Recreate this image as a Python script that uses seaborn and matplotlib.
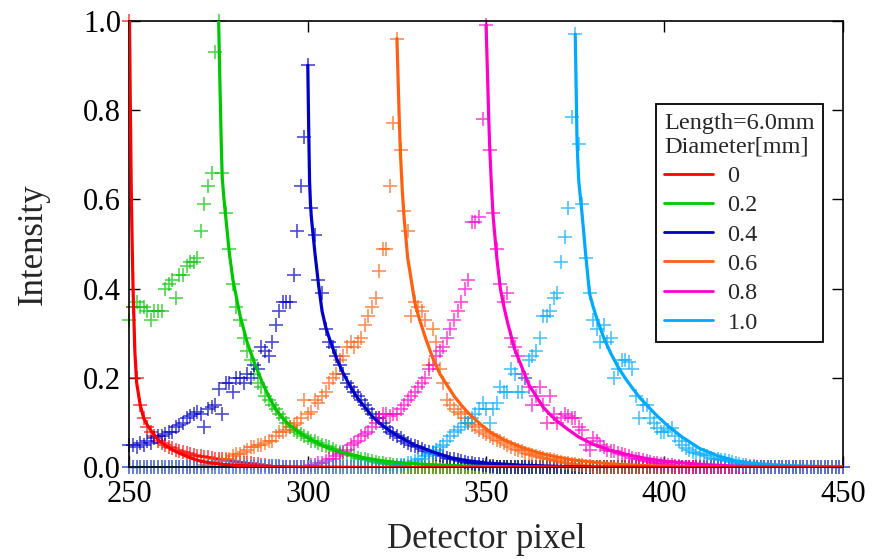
import matplotlib.pyplot as plt
import numpy as np
import seaborn as sns
from matplotlib.lines import Line2D

# diameter series, colours and fit peak position (detector pixel)
diameters = ["0", "0.2", "0.4", "0.6", "0.8", "1.0"]
colors = ["#ff0000", "#00c800", "#0000c8", "#ff6010", "#ff00cc", "#00aaff"]
peaks = [250, 275, 300, 325, 350, 375]

# fitted curves: offsets from the peak and intensities
fit_offsets = [0, 0.25, 0.5, 0.75, 1, 1.5, 2, 3, 4, 5, 6, 8, 10, 12, 14, 16, 18, 20,
               23, 26, 30, 35, 40, 45, 50, 60, 70, 80, 100, 150, 200]
fit_0 = [1.0, 0.8, 0.62, 0.5, 0.4, 0.26, 0.19, 0.14, 0.11, 0.095, 0.083, 0.062, 0.05, 0.04,
         0.032, 0.025, 0.019, 0.014, 0.01, 0.007, 0.005, 0.003, 0.002, 0.0015, 0.001, 0.0005,
         0, 0, 0, 0, 0]
fit_1 = [1.0, 0.9, 0.81, 0.72, 0.65, 0.6, 0.56, 0.48, 0.42, 0.38, 0.34, 0.28, 0.235, 0.195,
         0.16, 0.13, 0.11, 0.094, 0.076, 0.062, 0.046, 0.033, 0.023, 0.016, 0.011, 0.006,
         0.003, 0.0015, 0.0005, 0, 0]
fit_2 = [0.9, 0.76, 0.64, 0.59, 0.56, 0.52, 0.48, 0.41, 0.35, 0.315, 0.29, 0.245, 0.21, 0.18,
         0.155, 0.135, 0.115, 0.1, 0.082, 0.067, 0.05, 0.035, 0.022, 0.015, 0.01, 0.005,
         0.0025, 0.001, 0, 0, 0]
fit_3 = [0.96, 0.89, 0.82, 0.755, 0.7, 0.62, 0.56, 0.47, 0.42, 0.37, 0.34, 0.29, 0.246, 0.21,
         0.185, 0.16, 0.14, 0.122, 0.1, 0.08, 0.062, 0.045, 0.032, 0.023, 0.016, 0.008,
         0.004, 0.002, 0.0005, 0, 0]
fit_4 = [0.99, 0.92, 0.85, 0.78, 0.72, 0.63, 0.56, 0.47, 0.4, 0.36, 0.325, 0.265, 0.225,
         0.185, 0.16, 0.135, 0.118, 0.103, 0.085, 0.068, 0.052, 0.038, 0.028, 0.02, 0.014,
         0.007, 0.003, 0.0015, 0.0005, 0, 0]
fit_5 = [0.97, 0.85, 0.73, 0.68, 0.64, 0.6, 0.56, 0.47, 0.39, 0.36, 0.335, 0.29, 0.255, 0.225,
         0.2, 0.178, 0.157, 0.14, 0.115, 0.093, 0.068, 0.042, 0.026, 0.015, 0.009, 0.004,
         0.002, 0.001, 0, 0, 0]

# measured points, one per pixel 250..450; values listed from meas_start, zero elsewhere
pixels = np.arange(250, 451)
meas_start = [250, 250, 250, 270, 300, 325]
meas_0 = [1.0, 0.36, 0.2, 0.14, 0.11, 0.09, 0.08, 0.07, 0.06, 0.055, 0.05, 0.046, 0.043,
          0.04, 0.037, 0.034, 0.032, 0.03, 0.028, 0.026, 0.025, 0.024, 0.023, 0.022, 0.02,
          0.019, 0.018, 0.016, 0.015, 0.014, 0.013, 0.012, 0.011, 0.01, 0.009, 0.008, 0.007,
          0.006, 0.005, 0.004, 0.004, 0.003, 0.003, 0.002, 0.002, 0.001]
meas_1 = [0.33, 0.36, 0.37, 0.36, 0.36, 0.35, 0.33, 0.35, 0.35, 0.35, 0.40, 0.41, 0.42,
          0.38, 0.43, 0.43, 0.45, 0.46, 0.46, 0.47, 0.53, 0.59, 0.63, 0.66, 0.93, 1.0,
          0.66, 0.57, 0.49, 0.41, 0.36, 0.33, 0.29, 0.26, 0.24, 0.21, 0.19, 0.18, 0.16, 0.15,
          0.14, 0.13, 0.12, 0.11, 0.10, 0.09, 0.085, 0.08, 0.075, 0.07, 0.065, 0.06, 0.06,
          0.055, 0.05, 0.048, 0.045, 0.042, 0.038, 0.035, 0.032, 0.03, 0.027, 0.025, 0.022,
          0.02, 0.018, 0.016, 0.014, 0.012, 0.01, 0.009, 0.008, 0.007, 0.006, 0.005, 0.004,
          0.003, 0.002]
meas_2 = [0.05, 0.05, 0.045, 0.055, 0.05, 0.06, 0.055, 0.065, 0.07, 0.07, 0.075, 0.08, 0.08,
          0.09, 0.095, 0.10, 0.11, 0.115, 0.12, 0.125, 0.12, 0.09, 0.13, 0.135, 0.14, 0.175,
          0.12, 0.19, 0.19, 0.17, 0.20, 0.20, 0.19, 0.21, 0.20, 0.23, 0.22, 0.27, 0.26, 0.25,
          0.28, 0.32, 0.35, 0.37, 0.37, 0.37, 0.43, 0.53, 0.63, 0.74, 0.9,
          0.58, 0.52, 0.42, 0.39, 0.31, 0.28, 0.27, 0.25, 0.23, 0.21, 0.19, 0.18, 0.17, 0.16,
          0.15, 0.14, 0.13, 0.12, 0.11, 0.11, 0.10, 0.09, 0.08, 0.075, 0.07, 0.065, 0.06,
          0.055, 0.05, 0.048, 0.045, 0.042, 0.038, 0.035, 0.032, 0.03, 0.027, 0.025, 0.022,
          0.02, 0.018, 0.016, 0.014, 0.012, 0.01, 0.009, 0.008, 0.007, 0.006, 0.005, 0.004,
          0.003, 0.002]
meas_3 = [0.0, 0.005, 0.005, 0.01, 0.01, 0.015, 0.015, 0.02, 0.02, 0.025, 0.03, 0.03, 0.035,
          0.04, 0.045, 0.045, 0.05, 0.05, 0.055, 0.06, 0.06, 0.07, 0.08, 0.08, 0.085, 0.09,
          0.095, 0.10, 0.11, 0.15, 0.12, 0.125, 0.15, 0.145, 0.16, 0.17, 0.19, 0.20, 0.21,
          0.24, 0.25, 0.27, 0.28, 0.27, 0.28, 0.29, 0.32, 0.34, 0.36, 0.38, 0.44, 0.49, 0.49,
          0.63, 0.77, 0.96,
          0.71, 0.575, 0.53, 0.34, 0.37, 0.36, 0.35, 0.33, 0.23, 0.31, 0.28, 0.22, 0.19, 0.15,
          0.14, 0.13, 0.125, 0.12, 0.11, 0.10, 0.095, 0.09, 0.085, 0.08, 0.075, 0.07, 0.065,
          0.062, 0.06, 0.055, 0.05, 0.045, 0.042, 0.04, 0.036, 0.033, 0.03, 0.028, 0.025,
          0.023, 0.021, 0.02, 0.018, 0.016, 0.014, 0.012, 0.01, 0.009, 0.008, 0.007, 0.006,
          0.005, 0.004, 0.003, 0.002]
meas_4 = [0.0, 0.005, 0.005, 0.01, 0.01, 0.015, 0.02, 0.02, 0.025, 0.03, 0.035, 0.04, 0.05,
          0.055, 0.06, 0.07, 0.075, 0.08, 0.09, 0.10, 0.11, 0.12, 0.12, 0.115, 0.12, 0.12,
          0.13, 0.14, 0.15, 0.16, 0.17, 0.18, 0.19, 0.20, 0.22, 0.23, 0.25, 0.26, 0.27, 0.29,
          0.31, 0.33, 0.35, 0.37, 0.40, 0.42, 0.55, 0.55, 0.56, 0.78, 0.99,
          0.71, 0.57, 0.49, 0.41, 0.37, 0.39, 0.29, 0.27, 0.25, 0.21, 0.20, 0.18, 0.14, 0.16,
          0.18, 0.14, 0.10, 0.16, 0.12, 0.10, 0.11, 0.12, 0.115, 0.11, 0.11, 0.09, 0.085,
          0.05, 0.04, 0.066, 0.06, 0.05, 0.045, 0.04, 0.038, 0.036, 0.033, 0.03, 0.028, 0.025,
          0.022, 0.02, 0.018, 0.016, 0.014, 0.012, 0.01, 0.009, 0.008, 0.007, 0.006, 0.005,
          0.004, 0.003, 0.002]
meas_5 = [0.0, 0.005, 0.005, 0.01, 0.01, 0.015, 0.02, 0.02, 0.025, 0.03, 0.035, 0.04, 0.045,
          0.05, 0.06, 0.07, 0.08, 0.085, 0.09, 0.10, 0.10, 0.11, 0.12, 0.13, 0.145, 0.13,
          0.10, 0.13, 0.145, 0.18, 0.17, 0.17, 0.22, 0.21, 0.17, 0.17, 0.20, 0.24, 0.25, 0.26,
          0.29, 0.34, 0.34, 0.35, 0.38, 0.39, 0.46, 0.515, 0.58, 0.785, 0.97,
          0.725, 0.59, 0.47, 0.39, 0.33, 0.31, 0.28, 0.32, 0.28, 0.29, 0.2, 0.22, 0.24, 0.24,
          0.235, 0.22, 0.16, 0.11, 0.14, 0.14, 0.11, 0.10, 0.088, 0.08, 0.08, 0.085, 0.088,
          0.07, 0.06, 0.05, 0.043, 0.04, 0.035, 0.032, 0.03, 0.028, 0.025, 0.022, 0.02, 0.018,
          0.017, 0.016, 0.014, 0.012, 0.01, 0.008, 0.006, 0.005, 0.004, 0.003, 0.002]

fits = [fit_0, fit_1, fit_2, fit_3, fit_4, fit_5]
meas_values = [meas_0, meas_1, meas_2, meas_3, meas_4, meas_5]

sns.set_style("ticks")
plt.rcParams["font.family"] = ["Liberation Serif", "DejaVu Serif"]

fig, ax = plt.subplots(figsize=(8.72, 5.6), dpi=100)
fig.subplots_adjust(left=0.1485, right=0.9664, bottom=0.1652, top=0.963)

# measured points first (cyan ends up on top)
for i in range(6):
    meas = np.zeros(len(pixels))
    s = meas_start[i] - 250
    meas[s:s + len(meas_values[i])] = meas_values[i]
    sns.scatterplot(x=pixels, y=meas, marker="+", s=95, color=colors[i], linewidth=1.2,
                    alpha=0.7, ax=ax, legend=False, clip_on=False, zorder=2)

# fitted curves, red drawn last
for i in reversed(range(6)):
    sns.lineplot(x=peaks[i] + np.array(fit_offsets), y=fits[i], color=colors[i], lw=2.3,
                 ax=ax, estimator=None, sort=False, zorder=3)

ax.set_xlim(250, 450)
ax.set_ylim(0, 1.0)
ax.set_xticks([250, 300, 350, 400, 450])
ax.set_yticks([0, 0.2, 0.4, 0.6, 0.8, 1.0])
ax.set_yticklabels(["0.0", "0.2", "0.4", "0.6", "0.8", "1.0"])
ax.tick_params(direction="in", length=8, width=1.0, top=True, right=True,
               labelsize=22, colors="black")
ax.tick_params(axis="x", pad=9)
ax.tick_params(axis="y", pad=6)
for sp in ax.spines.values():
    sp.set_linewidth(1.2)
    sp.set_color("black")

ax.set_xlabel("Detector pixel", fontsize=25)
ax.set_ylabel("Intensity", fontsize=25)
ax.xaxis.set_label_coords(0.5, -0.125)
ax.yaxis.set_label_coords(-0.112, 0.5)

handles = [Line2D([], [], color=c, lw=2) for c in colors]
leg = ax.legend(handles, diameters, title="Length=6.0mm\nDiameter[mm]", loc="upper left",
                bbox_to_anchor=(0.738, 0.8136), fontsize=17.5, title_fontsize=17.5,
                alignment="left", frameon=True, fancybox=False, edgecolor="black",
                framealpha=1, handlelength=2.0, handletextpad=0.6, labelspacing=0.3,
                borderpad=0.35, borderaxespad=0)
leg.get_frame().set_linewidth(1.3)

fig.savefig("out.png", dpi=100)
